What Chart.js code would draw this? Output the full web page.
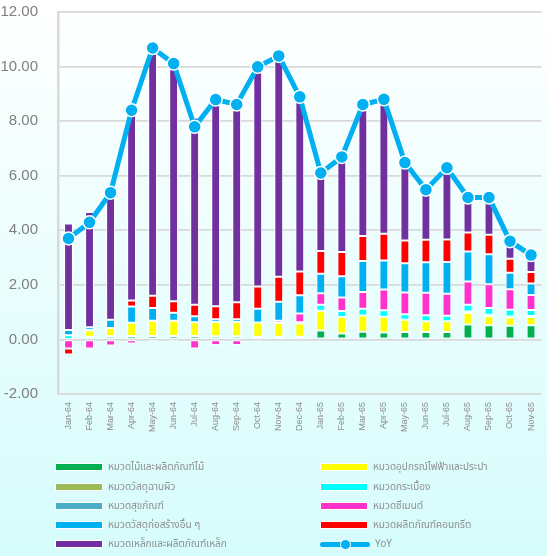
<!DOCTYPE html>
<html>
<head>
<meta charset="utf-8">
<script src="https://cdn.jsdelivr.net/npm/chart.js@4.4.1/dist/chart.umd.min.js"></script>
<style>
  html, body { margin: 0; padding: 0; }
  body {
    width: 547px; height: 556px; overflow: hidden; position: relative;
    background: linear-gradient(#ffffff, #d6fcfc);
    font-family: "Noto Sans Thai", Tahoma, "DejaVu Sans", sans-serif;
  }
  #wrap { position: absolute; left: 0; top: 0; width: 550px; height: 448px; }
  #legend { position: absolute; left: 0; top: 0; width: 547px; height: 556px; }
  .item { position: absolute; height: 18px; display: flex; align-items: center; font-size: 10px; color: #8f8f8f; white-space: nowrap; }
  .sw { width: 46px; height: 6px; border: 1px solid #fff; margin-right: 5px; position: relative; }
  .sw.line { height: 5px; border: none; border-radius: 3px; width: 50px; margin-right: 5px; }
  .dot { position: absolute; left: 20px; top: -3px; width: 9px; height: 9px; border-radius: 50%; background: #00b0f0; border: 1px solid #fff; }
</style>
</head>
<body>
<div id="wrap"><canvas id="chart"></canvas></div>
<div id="legend"></div>
<script>
const months = ["Jan-64", "Feb-64", "Mar-64", "Apr-64", "May-64", "Jun-64", "Jul-64", "Aug-64", "Sep-64", "Oct-64", "Nov-64", "Dec-64",
    "Jan-65", "Feb-65", "Mar-65", "Apr-65", "May-65", "Jun-65", "Jul-65", "Aug-65", "Sep-65", "Oct-65", "Nov-65"];

// contribution of each group (percentage points)
const wood       = [0.02, 0.10, 0.12, 0.13, 0.13, 0.13, 0.13, 0.12, 0.12, 0.10, 0.10, 0.10, 0.33, 0.22, 0.28, 0.25, 0.27, 0.27, 0.27, 0.55, 0.52, 0.50, 0.52];
const electrical = [0.00, 0.23, 0.30, 0.48, 0.55, 0.55, 0.50, 0.52, 0.52, 0.52, 0.50, 0.48, 0.72, 0.60, 0.60, 0.58, 0.45, 0.40, 0.40, 0.42, 0.33, 0.30, 0.30];
const surface    = [0, 0, 0, 0, 0, 0, 0, 0, 0, 0, 0, 0, 0, 0, 0, 0, 0, 0, 0, 0.05, 0.05, 0.04, 0.04];
const tiles      = [0.13, 0.02, 0, 0, 0, 0, 0, 0, 0, 0, 0, 0.05, 0.22, 0.22, 0.24, 0.24, 0.20, 0.22, 0.20, 0.25, 0.25, 0.25, 0.22];
const sanitary   = [0, 0, 0, 0, 0, 0, 0, 0, 0, 0, 0, 0, 0, 0, 0, 0, 0, 0, 0, 0, 0, 0, 0];
const cement     = [-0.33, -0.33, -0.22, -0.15, -0.08, -0.08, -0.33, -0.20, -0.20, -0.05, 0.08, 0.32, 0.42, 0.50, 0.62, 0.76, 0.80, 0.82, 0.80, 0.85, 0.87, 0.75, 0.55];
const otherMat   = [0.20, 0.10, 0.30, 0.60, 0.47, 0.30, 0.22, 0.10, 0.10, 0.50, 0.70, 0.67, 0.72, 0.78, 1.13, 1.06, 1.07, 1.12, 1.17, 1.10, 1.10, 0.60, 0.42];
const concrete   = [-0.22, -0.05, 0, 0.22, 0.45, 0.42, 0.42, 0.48, 0.62, 0.82, 0.92, 0.87, 0.83, 0.88, 0.92, 0.98, 0.84, 0.82, 0.82, 0.70, 0.72, 0.52, 0.42];
const steel      = [3.90, 4.22, 4.88, 7.12, 9.16, 8.79, 6.85, 7.77, 7.45, 8.10, 8.09, 6.40, 2.86, 3.49, 4.82, 4.93, 2.85, 1.84, 2.63, 1.28, 1.36, 0.64, 0.62];
const yoy        = [3.70, 4.29, 5.38, 8.40, 10.68, 10.11, 7.79, 8.79, 8.61, 9.99, 10.39, 8.89, 6.10, 6.69, 8.61, 8.80, 6.48, 5.49, 6.29, 5.20, 5.20, 3.60, 3.09];

const yTicks = [-2, 0, 2, 4, 6, 8, 10, 12];

// legend order matches the reference (row by row, two columns)
const groups = [
    {label: "หมวดไม้และผลิตภัณฑ์ไม้", data: wood, color: "#00b050"},
    {label: "หมวดอุปกรณ์ไฟฟ้าและประปา", data: electrical, color: "#ffff00"},
    {label: "หมวดวัสดุฉาบผิว", data: surface, color: "#9bbb59"},
    {label: "หมวดกระเบื้อง", data: tiles, color: "#00ffff"},
    {label: "หมวดสุขภัณฑ์", data: sanitary, color: "#4bacc6"},
    {label: "หมวดซีเมนต์", data: cement, color: "#ff33cc"},
    {label: "หมวดวัสดุก่อสร้างอื่น ๆ", data: otherMat, color: "#00b0f0"},
    {label: "หมวดผลิตภัณฑ์คอนกรีต", data: concrete, color: "#ff0000"},
    {label: "หมวดเหล็กและผลิตภัณฑ์เหล็ก", data: steel, color: "#7030a0"}
];

const datasets = groups.map(g => ({
    type: "bar",
    label: g.label,
    data: g.data,
    backgroundColor: g.color,
    borderColor: "#ffffff",
    borderWidth: 1,
    borderSkipped: false,
    stack: "groups",
    order: 1,
    barPercentage: 0.42,
    categoryPercentage: 1
}));

datasets.push({
    type: "line",
    label: "YoY",
    data: yoy,
    borderColor: "#00b0f0",
    borderWidth: 5,
    pointRadius: 6.5,
    pointBackgroundColor: "#00b0f0",
    pointBorderColor: "#ffffff",
    pointBorderWidth: 1.5,
    stack: "yoy",
    order: 0,
    tension: 0
});

new Chart(document.querySelector("#chart"), {
    data: {labels: months, datasets: datasets},
    options: {
        responsive: true,
        maintainAspectRatio: false,
        animation: false,
        layout: {padding: 0},
        plugins: {legend: {display: false}, tooltip: {enabled: false}},
        scales: {
            x: {
                stacked: true,
                grid: {display: false, drawTicks: false},
                border: {display: false},
                ticks: {
                    autoSkip: false, minRotation: 90, maxRotation: 90, padding: 8,
                    color: "#8c8c8c", font: {family: "Liberation Sans", size: 9}
                },
                afterFit: scale => { scale.height = 54; }
            },
            y: {
                stacked: true,
                min: -2,
                max: 12,
                afterBuildTicks: scale => { scale.ticks = yTicks.map(v => ({value: v})); },
                grid: {color: "#d9d9d9", lineWidth: 1.8, drawTicks: false},
                border: {color: "#d9d9d9", width: 2.5},
                ticks: {
                    padding: 20, color: "#7f7f7f",
                    font: {family: "Liberation Sans", size: 15},
                    callback: v => v.toFixed(2)
                },
                afterFit: scale => {
                    scale.width = 58;
                    scale.paddingTop = 12;
                    scale.paddingBottom = 0;
                }
            }
        }
    }
});

// two-column legend below the chart
const legend = document.querySelector("#legend");
const rowsY = [458, 478, 497, 516, 535];
const all = groups.concat([{label: "YoY", color: "#00b0f0", line: true}]);
all.forEach((g, i) => {
    const el = document.createElement("div");
    el.className = "item";
    el.style.left = (i % 2 === 0 ? 55 : 320) + "px";
    el.style.top = rowsY[Math.floor(i / 2)] + "px";
    const sw = document.createElement("span");
    sw.className = g.line ? "sw line" : "sw";
    sw.style.background = g.color;
    if (g.line) sw.appendChild(Object.assign(document.createElement("span"), {className: "dot"}));
    el.appendChild(sw);
    el.appendChild(document.createTextNode(g.label));
    legend.appendChild(el);
});
</script>
</body>
</html>
